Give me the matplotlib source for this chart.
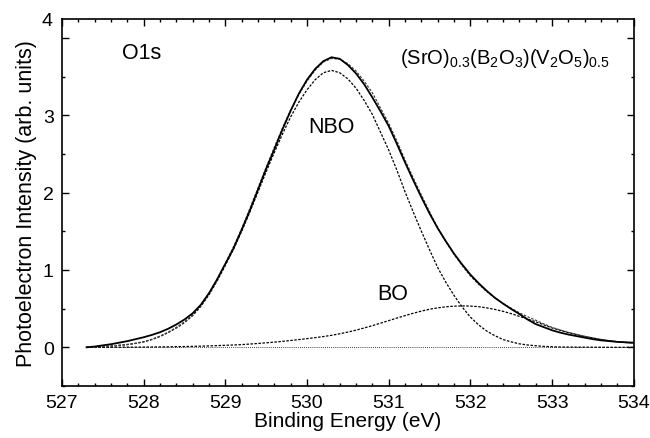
import numpy as np
import matplotlib
matplotlib.use("Agg")
import matplotlib.pyplot as plt

plt.rcParams['font.family'] = ['Liberation Sans', 'DejaVu Sans']
plt.rcParams['mathtext.default'] = 'regular'

# binding energy grid (eV), 0.1 eV steps
energy = np.round(np.arange(527.3, 534.001, 0.1), 1)

# measured O1s spectrum
measured = [0.00, 0.01, 0.025, 0.04, 0.06, 0.08, 0.105, 0.13, 0.16, 0.195,
            0.24, 0.295, 0.36, 0.44, 0.55, 0.70, 0.88, 1.08, 1.28, 1.52,
            1.77, 2.04, 2.31, 2.56, 2.82, 3.06, 3.28, 3.46, 3.60, 3.70,
            3.75, 3.73, 3.65, 3.54, 3.40, 3.23, 3.05, 2.86, 2.63, 2.39,
            2.16, 1.94, 1.73, 1.54, 1.37, 1.21, 1.07, 0.94, 0.83, 0.73,
            0.64, 0.565, 0.495, 0.43, 0.36, 0.30, 0.26, 0.22, 0.19, 0.165,
            0.145, 0.125, 0.105, 0.09, 0.08, 0.07, 0.065, 0.06]

# non-bridging oxygen component
nbo = [0.0, 0.005, 0.01, 0.015, 0.025, 0.035, 0.05, 0.07, 0.10, 0.14,
       0.19, 0.25, 0.32, 0.41, 0.53, 0.68, 0.86, 1.06, 1.27, 1.50,
       1.75, 2.01, 2.27, 2.52, 2.76, 2.98, 3.17, 3.33, 3.46, 3.55,
       3.58, 3.55, 3.47, 3.35, 3.19, 3.01, 2.78, 2.55, 2.29, 2.01,
       1.75, 1.50, 1.26, 1.03, 0.84, 0.67, 0.52, 0.39, 0.29, 0.21,
       0.15, 0.10, 0.07, 0.045, 0.03, 0.02, 0.012, 0.007, 0.004, 0.003,
       0.002, 0.002, 0.001, 0.001, 0.0, 0.0, 0.0, 0.0]

# bridging oxygen component
bo = [0.0, 0.0, 0.0, 0.001, 0.001, 0.002, 0.002, 0.003, 0.004, 0.005,
      0.006, 0.008, 0.01, 0.012, 0.015, 0.018, 0.022, 0.026, 0.03, 0.035,
      0.042, 0.05, 0.058, 0.067, 0.077, 0.088, 0.10, 0.112, 0.125, 0.139,
      0.155, 0.175, 0.197, 0.222, 0.25, 0.28, 0.312, 0.345, 0.378, 0.41,
      0.44, 0.468, 0.492, 0.51, 0.524, 0.532, 0.535, 0.533, 0.525, 0.51,
      0.49, 0.465, 0.435, 0.40, 0.365, 0.33, 0.29, 0.25, 0.22, 0.19,
      0.165, 0.14, 0.12, 0.10, 0.085, 0.072, 0.062, 0.055]

fit_total = np.array(nbo) + np.array(bo)

fig = plt.figure(figsize=(6.5, 4.39), dpi=100)
ax = fig.add_axes([0.0954, 0.1185, 0.8796, 0.836])

ax.plot(energy, np.zeros_like(energy), color='black', lw=0.6, ls=(0, (1, 1.5)))
ax.plot(energy, bo, color='black', lw=0.9, ls=(0, (2, 1.2)))
ax.plot(energy, nbo, color='black', lw=0.9, ls=(0, (2, 1.2)))
ax.plot(energy, fit_total, color='#444444', lw=0.9, ls=(0, (2, 1.2)))
ax.plot(energy, measured, color='black', lw=1.3)

ax.set_xlim(527, 534)
ax.set_ylim(-0.5, 4.245)
ax.set_xticks(range(527, 535))
ax.set_xticks(np.arange(527, 534.01, 0.2), minor=True)
ax.set_yticks([0, 1, 2, 3, 4])
ax.set_yticklabels(['0', '1', '2', '3', ''])
ax.set_yticks(np.arange(-0.5, 4.01, 0.5), minor=True)
ax.tick_params(which='both', direction='in', top=True, right=True,
               labelsize=14, width=1.0)
ax.tick_params(which='major', length=5, pad=6)
ax.tick_params(which='minor', length=2.5)
for sp in ax.spines.values():
    sp.set_linewidth(1.2)

# the "4" sits at the top corner of the frame
ax.text(-0.017, 0.995, '4', transform=ax.transAxes, ha='right', va='center',
        fontsize=14)

ax.set_xlabel('Binding Energy (eV)', fontsize=15, labelpad=0)
ax.set_ylabel('Photoelectron Intensity (arb. units)', fontsize=15.5, labelpad=4)

ax.text(527.73, 3.81, 'O1s', fontsize=15.5, va='center')
ax.text(530.3, 2.85, 'NBO', fontsize=15.5, ha='center', va='center')
ax.text(531.05, 0.7, 'BO', fontsize=15.5, ha='center', va='center')
ax.text(532.42, 3.75, r'(SrO)$_{0.3}$(B$_2$O$_3$)(V$_2$O$_5$)$_{0.5}$',
        fontsize=14.5, ha='center', va='center')

fig.savefig('out.png', dpi=100)
